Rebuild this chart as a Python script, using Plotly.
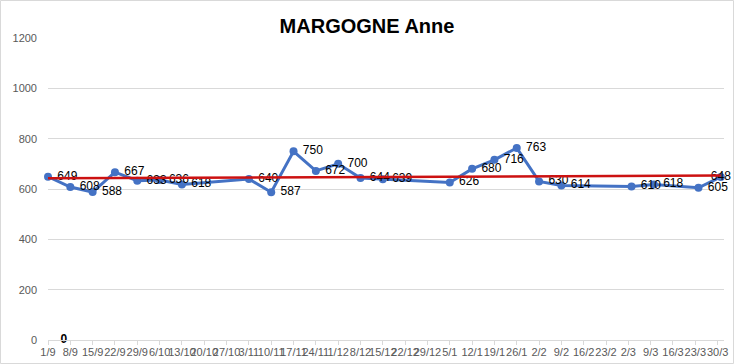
import numpy as np
import pandas as pd
import plotly.graph_objects as go

# ---- data ----
dates = ["2019-09-01", "2019-09-08", "2019-09-15", "2019-09-22", "2019-09-29",
         "2019-10-06", "2019-10-13", "2019-11-03", "2019-11-10", "2019-11-17",
         "2019-11-24", "2019-12-01", "2019-12-08", "2019-12-15", "2020-01-05",
         "2020-01-12", "2020-01-19", "2020-01-26", "2020-02-02", "2020-02-09",
         "2020-03-02", "2020-03-09", "2020-03-23", "2020-03-30"]
values = [649, 608, 588, 667, 633, 636, 618, 640, 587, 750, 672, 700, 644, 639,
          626, 680, 716, 763, 630, 614, 610, 618, 605, 648]

tick_dates = pd.date_range("2019-09-01", "2020-03-30", freq="7D")
tick_labels = ["1/9", "8/9", "15/9", "22/9", "29/9", "6/10", "13/10", "20/10",
               "27/10", "3/11", "10/11", "17/11", "24/11", "1/12", "8/12",
               "15/12", "22/12", "29/12", "5/1", "12/1", "19/1", "26/1", "2/2",
               "9/2", "16/2", "23/2", "2/3", "9/3", "16/3", "23/3", "30/3"]

zero_label_date = ["2019-09-06"]
zero_label_value = [0]

title = "MARGOGNE Anne"

FONT = "Liberation Sans, Arial, sans-serif"

# ---- linear trendline (least squares, like Excel) ----
d = pd.to_datetime(dates)
days = (d - d[0]).days.values.astype(float)
slope, intercept = np.polyfit(days, np.array(values, dtype=float), 1)
trend_x = [d[0], d[-1]]
trend_y = [intercept, intercept + slope * days[-1]]

positions = ["middle right"] * len(values)
positions[-1] = "middle center"
labels = ["\u00a0" + str(v) for v in values]
labels[-1] = str(values[-1])

fig = go.Figure()
fig.add_trace(go.Scatter(
    x=d, y=values, mode="lines+markers+text",
    text=labels, textposition=positions,
    textfont=dict(family=FONT, size=12, color="#000000"),
    line=dict(color="#4472C4", width=3),
    marker=dict(color="#4472C4", size=8),
    cliponaxis=False, showlegend=False, hoverinfo="x+y"))
fig.add_trace(go.Scatter(
    x=trend_x, y=trend_y, mode="lines",
    line=dict(color="#CC1111", width=2.5), showlegend=False, hoverinfo="skip"))
fig.add_trace(go.Scatter(
    x=pd.to_datetime(zero_label_date), y=zero_label_value, mode="text",
    text=["<b>0</b>"], textposition="middle center",
    textfont=dict(family=FONT, size=12, color="#000000"),
    cliponaxis=False, showlegend=False, hoverinfo="skip"))

L, R, T, B = 48, 10, 38, 24
W, H = 734, 364
pw, ph = W - L - R, H - T - B

fig.update_layout(
    template="none",
    width=W, height=H,
    margin=dict(l=L, r=R, t=T, b=B, pad=0),
    paper_bgcolor="white", plot_bgcolor="white",
    title=dict(text="<b>" + title + "</b>", x=0.5, xanchor="center",
               y=1 - 26 / H, yanchor="middle",
               font=dict(family=FONT, size=20, color="#000000")),
    xaxis=dict(
        type="date", range=[pd.Timestamp("2019-09-01"), pd.Timestamp("2020-03-31")],
        tickvals=tick_dates, ticktext=tick_labels, tickangle=0,
        showgrid=False, showline=True, linecolor="#D9D9D9", linewidth=1,
        ticks="outside", ticklen=4, tickcolor="#D9D9D9",
        tickfont=dict(family=FONT, size=11, color="#595959"),
        ticklabelstandoff=-2,
        zeroline=False, fixedrange=True, automargin=False),
    yaxis=dict(
        range=[0, 1200], tickvals=[0, 200, 400, 600, 800, 1000, 1200],
        showgrid=True, gridcolor="#D9D9D9", gridwidth=1,
        showline=False, zeroline=False, ticks="", ticklen=0,
        tickfont=dict(family=FONT, size=11, color="#595959"),
        ticklabelstandoff=10, fixedrange=True, automargin=False),
    shapes=[dict(type="rect", xref="paper", yref="paper",
                 x0=(0.5 - L) / pw, x1=(W - 0.5 - L) / pw,
                 y0=-(B - 0.5) / ph, y1=(ph + T - 0.5) / ph,
                 line=dict(color="#D9D9D9", width=1), layer="below")],
)

fig.write_html("out.html", config={"displayModeBar": False},
               post_script="document.body.style.margin='0';document.body.style.overflow='hidden';")
